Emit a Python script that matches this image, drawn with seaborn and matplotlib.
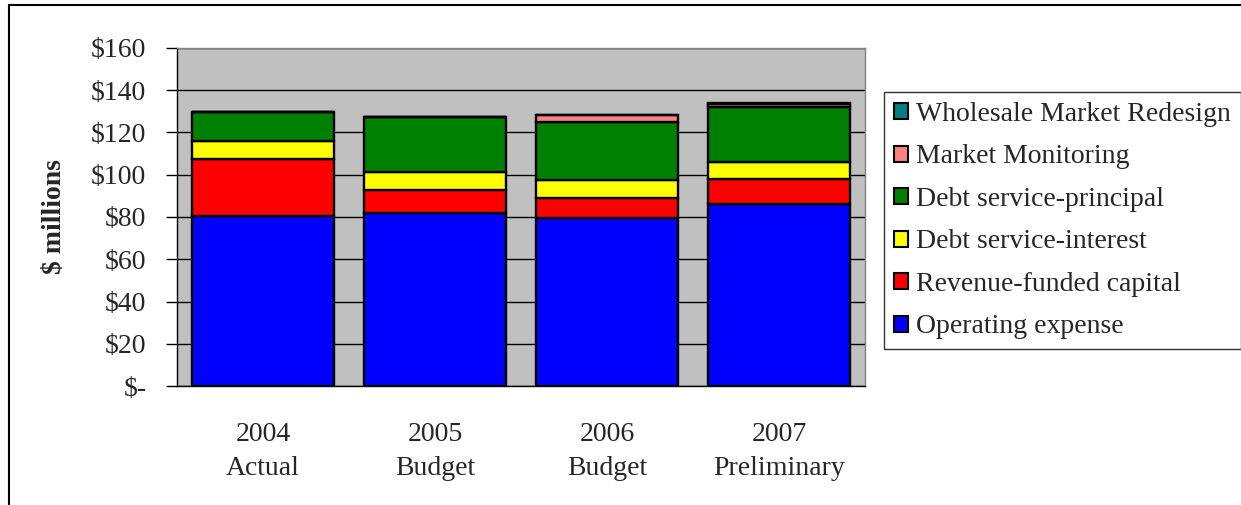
import numpy as np
import pandas as pd
import matplotlib
matplotlib.use('Agg')
import matplotlib.pyplot as plt
import seaborn as sns
from matplotlib.patches import Patch, Rectangle

# data ($ millions)
years = ['2004\nActual', '2005\nBudget', '2006\nBudget', '2007\nPreliminary']
operating = [80.6, 81.7, 79.4, 86.0]
revenue_capital = [26.9, 11.1, 9.6, 12.1]
debt_interest = [8.6, 8.5, 8.5, 8.1]
debt_principal = [13.5, 26.2, 27.5, 26.0]
market_monitoring = [0.0, 0.0, 3.3, 1.1]
wholesale_redesign = [0.0, 0.0, 0.0, 0.5]

series = ['Operating expense', 'Revenue-funded capital', 'Debt service-interest',
          'Debt service-principal', 'Market Monitoring', 'Wholesale Market Redesign']
colors = ['#0000FF', '#FF0000', '#FFFF00', '#008000', '#FF8080', '#008080']
yticks = [0, 20, 40, 60, 80, 100, 120, 140, 160]
ytick_labels = ['$-', '$20', '$40', '$60', '$80', '$100', '$120', '$140', '$160']

df = pd.DataFrame({
    'year': years,
    series[0]: operating,
    series[1]: revenue_capital,
    series[2]: debt_interest,
    series[3]: debt_principal,
    series[4]: market_monitoring,
    series[5]: wholesale_redesign,
})

sns.set_style('white')
plt.rcParams['font.family'] = ['Liberation Serif', 'DejaVu Serif']
fs = 20

fig = plt.figure(figsize=(12.41, 5.05), dpi=100)
ax = fig.add_axes([177 / 1241, 1 - 386 / 505, 688 / 1241, 338 / 505])
ax.set_facecolor('#C0C0C0')
ax.set_axisbelow(True)

bottom = np.zeros(len(years))
for name, col in zip(series, colors):
    sns.barplot(data=df, x='year', y=name, color=col, bottom=bottom, width=0.83,
                edgecolor='black', linewidth=1.7, saturation=1, ax=ax)
    bottom = bottom + df[name].values

ax.set_ylim(0, 160)
ax.set_xlim(-0.5, 3.5)
ax.set_yticks(yticks)
ax.set_yticklabels(ytick_labels, fontsize=fs)
ax.set_xticks(range(len(years)))
ax.set_xticklabels(years, fontsize=fs, linespacing=1.45)
ax.set_xticks(np.arange(-0.5, 4, 1), minor=True)
ax.tick_params(axis='x', which='major', length=0, pad=26)
ax.tick_params(axis='x', which='minor', length=8, width=1, direction='out', color='black')
ax.tick_params(axis='y', length=8, width=1, direction='out', color='black', pad=14, left=True)
ax.yaxis.grid(True, color='black', linewidth=1)
ax.set_xlabel('')
ax.set_ylabel(r'\$ millions', fontsize=fs, fontweight='bold', labelpad=17)

for side in ['top', 'right']:
    ax.spines[side].set_color('#808080')
    ax.spines[side].set_linewidth(1)
for side in ['left', 'bottom']:
    ax.spines[side].set_color('black')
    ax.spines[side].set_linewidth(1)

handles = [Patch(facecolor=c, edgecolor='black', linewidth=1.5) for c in colors][::-1]
leg = fig.legend(handles, series[::-1], loc='upper left',
                 bbox_to_anchor=(884 / 1241, 1 - 92 / 505), bbox_transform=fig.transFigure,
                 fontsize=fs, frameon=True, fancybox=False, edgecolor='black',
                 borderaxespad=0, borderpad=0.36, labelspacing=0.63,
                 handlelength=0.5, handleheight=0.5, handletextpad=0.3)
leg.get_frame().set_linewidth(1)

# outer chart border
fig.patches.append(Rectangle((9 / 1241, -0.1), 1.2, 1.1 - 5 / 505, transform=fig.transFigure,
                             fill=False, edgecolor='black', linewidth=1.5))

fig.savefig('out.png', dpi=100)
